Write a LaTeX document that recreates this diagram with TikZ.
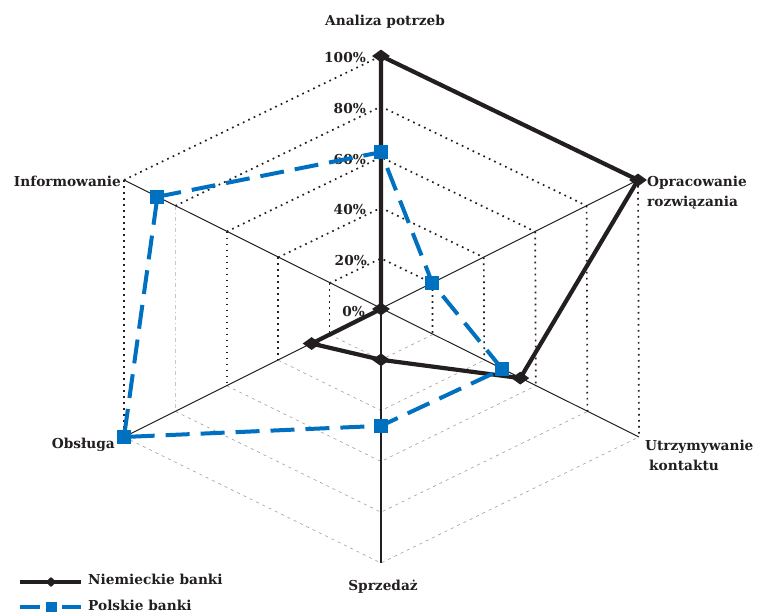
\documentclass[tikz,border=0pt]{standalone}
\usepackage{fontspec}
\setmainfont{DejaVu Serif}
\usetikzlibrary{calc,shapes.geometric}
\definecolor{ink}{HTML}{231F20}
\definecolor{pblue}{HTML}{0070C0}
\tikzset{
  lbl/.style={font=\bfseries\fontsize{13.7}{20}\selectfont, text=ink, inner sep=0pt},
  pct/.style={lbl, anchor=east},
  ringup/.style={draw=ink, line width=1.7pt, dash pattern=on 1.7pt off 4.3pt},
  ringlow/.style={draw=gray!75, line width=0.6pt, dash pattern=on 3pt off 4pt},
  ringfaint/.style={draw=gray!45, line width=0.6pt, dash pattern=on 4pt off 3pt on 1pt off 3pt},
  axisline/.style={draw=ink, line width=1pt},
  german/.style={draw=ink, line width=4.2pt, line join=round},
  polish/.style={draw=pblue, line width=4pt, dash pattern=on 24pt off 11pt},
  gmark/.style={diamond, fill=ink, draw=none, minimum width=18pt, minimum height=13pt, inner sep=0pt},
  pmark/.style={rectangle, fill=pblue, draw=none, minimum size=14pt, inner sep=0pt},
}
\begin{document}
\begin{tikzpicture}[x=1pt,y=-1pt]
\useasboundingbox[fill=white] (0,0) rectangle (757,612);
\coordinate (C) at (381,309);
\coordinate (E1) at (381,56);
\coordinate (E2) at (638,180);
\coordinate (E3) at (639,437);
\coordinate (E4) at (381,563);
\coordinate (E5) at (124,437);
\coordinate (E6) at (124,180);
% rings
\foreach \k in {0.2,0.4,0.6,0.8,1}{
  \draw[ringlow] ($(C)!\k!(E5)$) -- ($(C)!\k!(E4)$) -- ($(C)!\k!(E3)$);
  \draw[ringup] ($(C)!\k!(E6)$) -- ($(C)!\k!(E1)$) -- ($(C)!\k!(E2)$);
  \draw[ringup] ($(C)!\k!(E2)$) -- ($(C)!\k!(E3)$);
}
\foreach \k in {0.2,0.4,0.6,1}{
  \draw[ringup] ($(C)!\k!(E6)$) -- ($(C)!\k!(E5)$);
}
\draw[ringfaint] ($(C)!0.8!(E6)$) -- ($(C)!0.8!(E5)$);
% axes
\draw[axisline] (E6) -- (E3);
\draw[axisline] (E5) -- (E2);
\draw[axisline] (E1) -- (C);
\draw[draw=ink, line width=2pt] (C) -- (E4);
% percent labels
\node[pct] (p100) at ($(C)!1!(E1)+(-15,2)$) {100\%};
\node[pct] (p80) at ($(C)!0.8!(E1)+(-15,2)$) {80\%};
\node[pct] (p60) at ($(C)!0.6!(E1)+(-15,2)$) {60\%};
\node[pct] (p40) at ($(C)!0.4!(E1)+(-15,2)$) {40\%};
\node[pct] (p20) at ($(C)!0.2!(E1)+(-14,2)$) {20\%};
\node[pct] (p0) at ($(C)+(-16,3)$) {0\%};
% axis labels
\node[lbl] (l1) at (385,22) {Analiza potrzeb};
\node[lbl, anchor=west, align=left] (l2) at (647,193) {Opracowanie\\rozwiązania};
\node[lbl, anchor=west, align=left] (l3) at (645,455) {Utrzymywanie\\\hspace*{4pt}kontaktu};
\node[lbl] (l4) at (383,587) {Sprzedaż};
\node[lbl, anchor=east] (l5) at (115,445) {Obsługa};
\node[lbl, anchor=east] (l6) at (121,181) {Informowanie};
% data points
\coordinate (G1) at ($(C)!1!(E1)$);
\coordinate (G2) at ($(C)!1!(E2)$);
\coordinate (G3) at ($(C)!0.54!(E3)$);
\coordinate (G4) at ($(C)!0.2!(E4)$);
\coordinate (G5) at ($(C)!0.27!(E5)$);
\coordinate (G6) at (C);
\coordinate (P1) at ($(C)!0.62!(E1)$);
\coordinate (P2) at ($(C)!0.2!(E2)$);
\coordinate (P3) at ($(C)!0.47!(E3)$);
\coordinate (P4) at ($(C)!0.46!(E4)$);
\coordinate (P5) at ($(C)!1!(E5)$);
\coordinate (P6) at ($(C)!0.87!(E6)$);
\draw[german] (G1) -- (G2) -- (G3) -- (G4) -- (G5) -- (G6) -- cycle;
\draw[polish] (P6) -- (P1) -- (P2) -- (P3) -- (P4) -- (P5) -- cycle;
\foreach \i in {1,...,6}{ \node[gmark] (gm\i) at (G\i) {}; }
\foreach \i in {1,...,6}{ \node[pmark] (pm\i) at (P\i) {}; }
% legend
\coordinate (La) at (20,582); \coordinate (Lb) at (81,582);
\draw[draw=ink, line width=4pt] (La) -- (Lb);
\node[gmark, minimum width=11pt, minimum height=10pt] (lgm) at (51,582) {};
\node[lbl, anchor=west] (lt1) at (88,579) {Niemieckie banki};
\coordinate (Lc) at (20,607); \coordinate (Ld) at (40,607);
\coordinate (Le) at (62,607); \coordinate (Lf) at (81,607);
\draw[draw=pblue, line width=4pt] (Lc) -- (Ld);
\draw[draw=pblue, line width=4pt] (Le) -- (Lf);
\node[pmark, minimum size=11pt] (lpm) at (51,607) {};
\node[lbl, anchor=west] (lt2) at (88,605) {Polskie banki};
\end{tikzpicture}
\end{document}
